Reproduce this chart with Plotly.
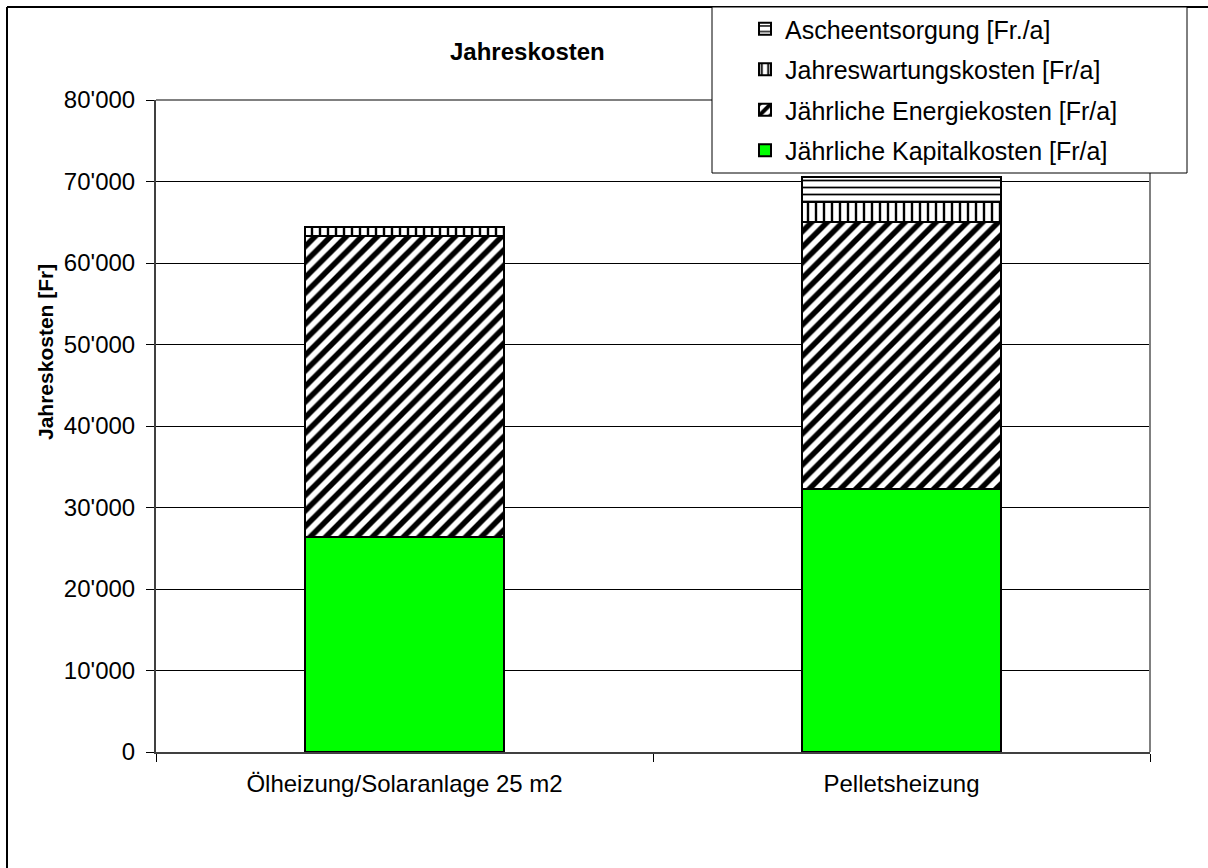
import plotly.graph_objects as go

categories = ["Ölheizung/Solaranlage 25 m2", "Pelletsheizung"]
kapital = [26400, 32270]
energie = [36900, 32800]
wartung = [1140, 2450]
asche = [0, 3070]
series_names = [
    "Jährliche Kapitalkosten [Fr/a]",
    "Jährliche Energiekosten [Fr/a]",
    "Jahreswartungskosten [Fr/a]",
    "Ascheentsorgung [Fr./a]",
]
y_tickvals = [0, 10000, 20000, 30000, 40000, 50000, 60000, 70000, 80000]
y_ticktext = ["0", "10'000", "20'000", "30'000", "40'000", "50'000", "60'000", "70'000", "80'000"]

W, H = 1208, 868
L, R, T, B = 156, 1150, 100, 752
pw, ph = R - L, B - T

def px(x):
    return (x - L) / pw

def py(y):
    return (B - y) / ph

FONT = "Liberation Sans, Arial, sans-serif"
line = dict(color="black", width=2)

fig = go.Figure()
fig.add_bar(x=categories, y=kapital, name=series_names[0], legendrank=4, legendgroup="g4",
            marker=dict(color="#00FF00", line=line))
fig.add_bar(x=categories, y=energie, name=series_names[1], legendrank=3, legendgroup="g3",
            marker=dict(color="white", line=line,
                        pattern=dict(shape="/", fgcolor="black", bgcolor="white", fgopacity=1,
                                     size=11, solidity=0.5, fillmode="overlay")))
fig.add_bar(x=categories, y=wartung, name=series_names[2], legendrank=2, legendgroup="g2",
            marker=dict(color="white", line=line,
                        pattern=dict(shape="|", fgcolor="black", bgcolor="white", fgopacity=1,
                                     size=8, solidity=0.3, fillmode="overlay")))
fig.add_bar(x=categories, y=asche, name=series_names[3], legendrank=1, legendgroup="g1",
            marker=dict(color="white", line=line,
                        pattern=dict(shape="-", fgcolor="black", bgcolor="white", fgopacity=1,
                                     size=7, solidity=0.25, fillmode="overlay")))

fig.update_layout(
    width=W, height=H,
    margin=dict(l=L, r=W - R, t=T, b=H - B, pad=0, autoexpand=False),
    barmode="stack",
    bargap=0.6,
    paper_bgcolor="white",
    plot_bgcolor="white",
    font=dict(family=FONT, color="black", size=18),
    showlegend=True,
    legend=dict(
        xref="container", yref="container",
        x=745 / W, y=1 - 6 / H, xanchor="left", yanchor="top",
        bgcolor="rgba(0,0,0,0)", borderwidth=0,
        font=dict(family=FONT, size=25, color="black"),
        traceorder="grouped", tracegroupgap=5,
        itemwidth=30,
    ),
    xaxis=dict(
        type="category",
        tickson="boundaries",
        ticks="outside", ticklen=8, tickcolor="black", tickwidth=1,
        showline=True, linecolor="#404040", linewidth=2,
        showgrid=False,
        tickfont=dict(family=FONT, size=24),
        ticklabelstandoff=9,
        range=[-0.5, 1.5],
    ),
    yaxis=dict(
        range=[0, 80000],
        tickvals=y_tickvals, ticktext=y_ticktext,
        ticks="outside", ticklen=8, tickcolor="black", tickwidth=1,
        showline=True, linecolor="#404040", linewidth=2,
        showgrid=True, gridcolor="black", gridwidth=1,
        zeroline=False,
        tickfont=dict(family=FONT, size=24),
        ticklabelstandoff=6,
    ),
    shapes=[
        dict(type="line", xref="paper", yref="paper", x0=0, x1=1, y0=1, y1=1,
             line=dict(color="#808080", width=2), layer="above"),
        dict(type="line", xref="paper", yref="paper", x0=1, x1=1, y0=0, y1=1,
             line=dict(color="#808080", width=2), layer="above"),
        dict(type="line", xref="paper", yref="paper", x0=px(7), x1=px(7), y0=py(H + 5), y1=py(7),
             line=dict(color="black", width=2), layer="above"),
        dict(type="line", xref="paper", yref="paper", x0=px(7), x1=px(W + 5), y0=py(7), y1=py(7),
             line=dict(color="black", width=2), layer="above"),
        # legend box
        dict(type="rect", xref="paper", yref="paper", x0=px(712), x1=px(1187), y0=py(173), y1=py(7),
             fillcolor="white", line=dict(color="black", width=1), layer="above"),
    ],
    annotations=[
        dict(text="<b>Jahreskosten</b>", xref="paper", yref="paper",
             x=px(527), y=py(52), xanchor="center", yanchor="middle",
             showarrow=False, font=dict(family=FONT, size=24)),
        dict(text="<b>Jahreskosten [Fr]</b>", xref="paper", yref="paper",
             x=px(45), y=py(352), xanchor="center", yanchor="middle", textangle=-90,
             showarrow=False, font=dict(family=FONT, size=21)),
    ],
)

fig.write_html("out.html", config={"displayModeBar": False},
               post_script="document.body.style.margin='0px';")
